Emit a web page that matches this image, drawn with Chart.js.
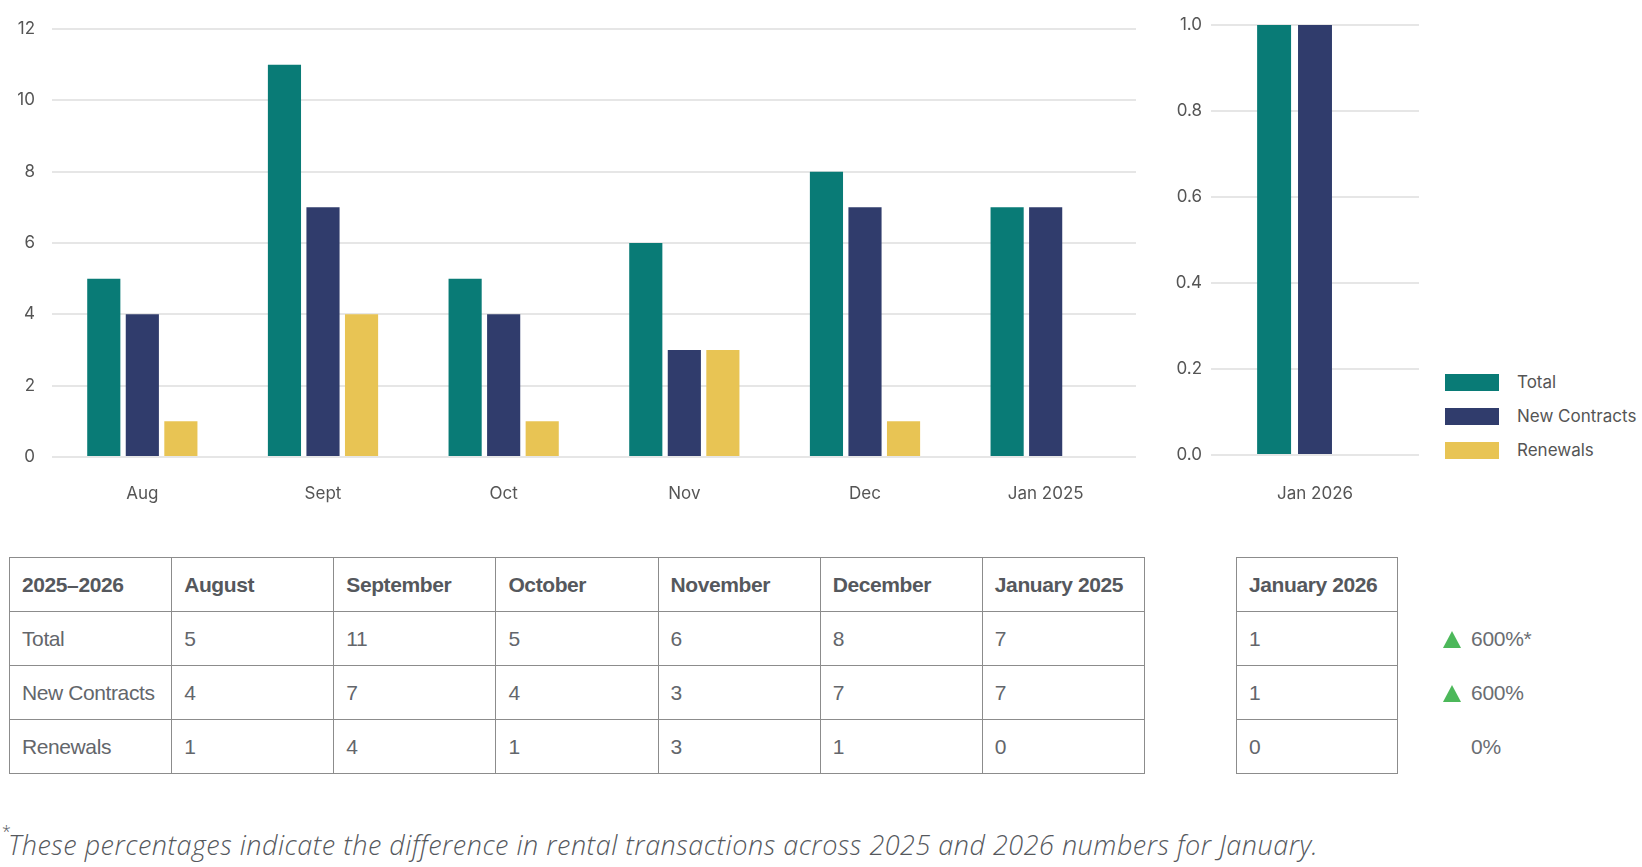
<!DOCTYPE html>
<html>
<head>
<meta charset="utf-8">
<script src="https://cdn.jsdelivr.net/npm/chart.js@4.4.1/dist/chart.umd.min.js"></script>
<style>
  body { margin: 0; width: 1642px; height: 867px; background: #fff; position: relative; overflow: hidden; font-family: Inter, sans-serif; }
  .box { position: absolute; }
  #legend { position: absolute; left: 1445px; top: 374px; }
  #legend .item { height: 34px; display: flex; align-items: flex-start; font: 17px Inter, sans-serif; color: #555; }
  #legend .sw { width: 54px; height: 17px; margin-right: 18px; }
  #legend .lbl { line-height: 17px; }
  table { position: absolute; border-collapse: collapse; font-family: "Liberation Sans", Arial, sans-serif; font-size: 21px; letter-spacing: -0.4px; color: #63666b; table-layout: fixed; }
  td, th { border: 1.5px solid #8c8c8c; height: 54px; padding: 0 0 0 12px; text-align: left; vertical-align: middle; box-sizing: border-box; }
  th { font-weight: bold; color: #55585d; }
  #changes { position: absolute; left: 1443px; top: 612px; }
  #changes .row { height: 54px; display: flex; align-items: center; font: 21px "Liberation Sans", Arial, sans-serif; color: #6a6d72; letter-spacing: -0.3px; }
  #changes .tri { width: 0; height: 0; border-left: 9px solid transparent; border-right: 9px solid transparent; border-bottom: 17px solid #4cb85a; margin-right: 10px; }
  #changes .tri.none { border-bottom-color: transparent; }
  #note { position: absolute; left: 8px; top: 826px; font: italic 300 27px "Open Sans", sans-serif; letter-spacing: 0.5px; color: #55585d; white-space: nowrap; }
  #note sup { position: absolute; left: -6px; top: -6px; font-size: 16px; font-style: normal; }
</style>
</head>
<body>
<div class="box" style="left:0;top:0;width:1150px;height:520px;"><canvas id="mainChart"></canvas></div>
<div class="box" style="left:1150px;top:0;width:280px;height:520px;"><canvas id="janChart"></canvas></div>
<div id="legend"></div>
<table id="mainTable" style="left:9px;top:557px;width:1136px;"></table>
<table id="janTable" style="left:1236px;top:557px;width:162px;"></table>
<div id="changes"></div>
<div id="note"><sup>*</sup>These percentages indicate the difference in rental transactions across 2025 and 2026 numbers for January.</div>
<script>
const months = ['Aug', 'Sept', 'Oct', 'Nov', 'Dec', 'Jan 2025'];
const monthNames = ['August', 'September', 'October', 'November', 'December', 'January 2025'];
const totals = [5, 11, 5, 6, 8, 7];
const newContracts = [4, 7, 4, 3, 7, 7];
const renewals = [1, 4, 1, 3, 1, 0];

const janLabels = ['Jan 2026'];
const janNames = ['January 2026'];
const janTotals = [1];
const janNewContracts = [1];
const janRenewals = [0];

const seriesNames = ['Total', 'New Contracts', 'Renewals'];
const seriesColors = ['#097b76', '#303c6c', '#e8c454'];
const changes = ['600%*', '600%', '0%'];
const changeUp = [true, true, false];

const mainTicks = [0, 2, 4, 6, 8, 10, 12];
const janTicks = [0, 0.2, 0.4, 0.6, 0.8, 1.0];

const tickFont = { family: 'Inter', size: 17 };
const tickColor = '#555';
const gridColor = '#e6e6e6';

function makeDatasets(values, cp, bp) {
    return values.map(function(v, i) {
        return {
            label: seriesNames[i],
            data: v,
            backgroundColor: seriesColors[i],
            categoryPercentage: cp,
            barPercentage: bp
        };
    });
}

// Aug - Jan 2025
new Chart(document.getElementById('mainChart'), {
    type: 'bar',
    data: {
        labels: months,
        datasets: makeDatasets([totals, newContracts, renewals], 0.64, 0.86)
    },
    options: {
        responsive: true,
        maintainAspectRatio: false,
        animation: false,
        layout: { padding: { top: 29, right: 14, left: 0, bottom: 0 } },
        plugins: { legend: { display: false }, tooltip: { enabled: false } },
        scales: {
            x: {
                grid: { display: false },
                border: { display: false },
                ticks: { font: tickFont, color: tickColor, padding: 19 },
                afterFit: function(s) { s.height = 63; }
            },
            y: {
                min: 0,
                max: 12,
                afterBuildTicks: function(s) { s.ticks = mainTicks.map(function(v) { return { value: v }; }); },
                grid: { color: gridColor, lineWidth: 2, drawTicks: false },
                border: { display: false },
                ticks: { font: tickFont, color: tickColor, padding: 17 },
                afterFit: function(s) { s.width = 52; }
            }
        }
    }
});

// Jan 2026
new Chart(document.getElementById('janChart'), {
    type: 'bar',
    data: {
        labels: janLabels,
        datasets: makeDatasets([janTotals, janNewContracts, janRenewals], 0.59, 0.83)
    },
    options: {
        responsive: true,
        maintainAspectRatio: false,
        animation: false,
        layout: { padding: { top: 25, right: 11, left: 0, bottom: 0 } },
        plugins: { legend: { display: false }, tooltip: { enabled: false } },
        scales: {
            x: {
                grid: { display: false },
                border: { display: false },
                ticks: { font: tickFont, color: tickColor, padding: 21 },
                afterFit: function(s) { s.height = 65; }
            },
            y: {
                min: 0,
                max: 1,
                afterBuildTicks: function(s) { s.ticks = janTicks.map(function(v) { return { value: v }; }); },
                grid: { color: gridColor, lineWidth: 2, drawTicks: false },
                border: { display: false },
                ticks: { font: tickFont, color: tickColor, padding: 9, callback: function(v) { return v.toFixed(1); } },
                afterFit: function(s) { s.width = 61; }
            }
        }
    }
});

// legend
const legend = document.getElementById('legend');
seriesNames.forEach(function(name, i) {
    legend.innerHTML += '<div class="item"><div class="sw" style="background:' + seriesColors[i] + '"></div><div class="lbl">' + name + '</div></div>';
});

// tables
const rows = [totals, newContracts, renewals];
const janRows = [janTotals, janNewContracts, janRenewals];
let html = '<tr><th>2025–2026</th>' + monthNames.map(function(m) { return '<th>' + m + '</th>'; }).join('') + '</tr>';
rows.forEach(function(r, i) {
    html += '<tr><td>' + seriesNames[i] + '</td>' + r.map(function(v) { return '<td>' + v + '</td>'; }).join('') + '</tr>';
});
document.getElementById('mainTable').innerHTML = html;

let janHtml = '<tr><th>' + janNames[0] + '</th></tr>';
janRows.forEach(function(r) { janHtml += '<tr><td>' + r[0] + '</td></tr>'; });
document.getElementById('janTable').innerHTML = janHtml;

const ch = document.getElementById('changes');
changes.forEach(function(c, i) {
    ch.innerHTML += '<div class="row"><div class="tri' + (changeUp[i] ? '' : ' none') + '"></div>' + c + '</div>';
});
</script>
</body>
</html>
